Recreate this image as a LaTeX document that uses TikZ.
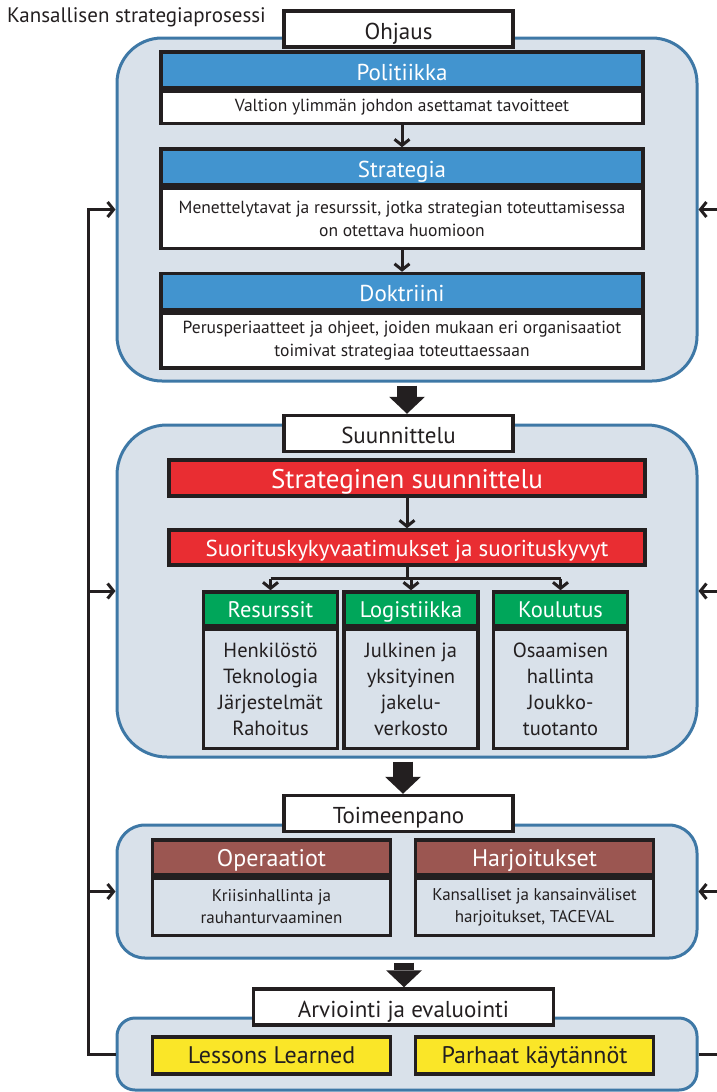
\documentclass[tikz,border=0pt]{standalone}
\usepackage{fontspec}
\setmainfont{PT Sans}
\usetikzlibrary{arrows.meta}

\definecolor{panelblue}{RGB}{62,120,166}
\definecolor{panelfill}{RGB}{217,225,234}
\definecolor{headblue}{RGB}{66,148,207}
\definecolor{headred}{RGB}{233,45,50}
\definecolor{headgreen}{RGB}{0,166,90}
\definecolor{headbrown}{RGB}{155,86,81}
\definecolor{boxyellow}{RGB}{250,230,40}
\definecolor{ink}{RGB}{35,31,32}

\begin{document}
\begin{tikzpicture}[x=1pt, y=-1pt, >={Straight Barb[length=6pt,width=15pt]},
  panel/.style={draw=panelblue, line width=3pt, fill=panelfill, rounded corners=#1, inner sep=0},
  stage/.style={draw=ink, line width=3.5pt, fill=white, text=ink, inner sep=0,
    minimum height=36pt, text height=20pt, text depth=0pt, font=\fontsize{23}{27}\selectfont},
  head/.style={draw=ink, line width=3.5pt, fill=#1, text=white, inner sep=0, text depth=0pt},
  body/.style={draw=ink, line width=3.5pt, fill=white, text=ink, align=center, inner sep=0},
  conn/.style={draw=ink, line width=3pt},
  bigarrow/.style={draw=ink, line width=20pt, -{Triangle[width=36pt,length=17pt,line width=0pt]}}]
  % --- page 717 x 1092, y runs downwards ---
  \useasboundingbox (0,0) rectangle (717,1092);

  % Title
  \node[anchor=west, inner sep=0, text=ink, font=\fontsize{21}{25}\selectfont] (title) at (7,17)
    {Kansallisen strategiaprosessi};

  % Panels
  \node[panel=45pt, minimum width=580pt, minimum height=343pt] (pan1) at (407,209.5) {};
  \node[panel=50pt, minimum width=580pt, minimum height=332pt] (pan2) at (407,591) {};
  \node[panel=28pt, minimum width=580pt, minimum height=133pt] (pan3) at (407,891.5) {};
  \node[panel=18pt, minimum width=580pt, minimum height=72pt] (pan4) at (407,1054) {};

  % Stage labels
  \node[stage, minimum width=229pt] (ohj) at (398.5,29) {Ohjaus};
  \node[stage, minimum width=229pt] (suun) at (398.5,433.5) {Suunnittelu};
  \node[stage, minimum width=229pt] (toim) at (398.5,813.5) {Toimeenpano};
  \node[stage, minimum width=300pt] (arv) at (403.5,1007) {Arviointi ja evaluointi};

  % Ohjaus: blue blocks
  \tikzset{bhead/.style={head=headblue, minimum width=482pt, minimum height=36pt,
      text height=20pt, font=\fontsize{23}{27}\selectfont},
    bbody/.style={body, minimum width=482pt, anchor=north, font=\fontsize{17.5}{23}\selectfont}}
  \node[bhead] (pol-h) at (402,70) {Politiikka};
  \node[bbody, minimum height=32pt] (pol-b) at (pol-h.south)
    {Valtion ylimmän johdon asettamat tavoitteet};
  \node[bhead] (str-h) at (402,167) {Strategia};
  \node[bbody, minimum height=60pt] (str-b) at (str-h.south)
    {Menettelytavat ja resurssit, jotka strategian toteuttamisessa\\on otettava huomioon};
  \node[bhead] (dok-h) at (402,291.5) {Doktriini};
  \node[bbody, minimum height=55pt] (dok-b) at (dok-h.south)
    {Perusperiaatteet ja ohjeet, joiden mukaan eri organisaatiot\\toimivat strategiaa toteuttaessaan};
  \draw[conn,->] (pol-b.south) -- (str-h.north);
  \draw[conn,->] (str-b.south) -- (dok-h.north);

  % Suunnittelu: red and green blocks
  \node[head=headred, minimum width=476pt, minimum height=36pt, text height=20pt,
    font=\fontsize{27}{31}\selectfont] (strs) at (407,478) {Strateginen suunnittelu};
  \node[head=headred, minimum width=476pt, minimum height=35pt, text height=17pt,
    font=\fontsize{23}{27}\selectfont] (suor) at (407,547.5) {Suorituskykyvaatimukset ja suorituskyvyt};
  \draw[conn,->] (strs.south) -- (suor.north);

  \tikzset{ghead/.style={head=headgreen, minimum width=134pt, minimum height=34pt,
      text height=16pt, font=\fontsize{22.5}{26}\selectfont},
    gbody/.style={body, fill=panelfill, minimum width=134pt, minimum height=119pt, anchor=north,
      font=\fontsize{20.5}{26}\selectfont}}
  \node[ghead] (res-h) at (270.5,609) {Resurssit};
  \node[gbody] (res-b) at (res-h.south) {Henkilöstö\\Teknologia\\Järjestelmät\\Rahoitus};
  \node[ghead] (log-h) at (411,609) {Logistiikka};
  \node[gbody] (log-b) at (log-h.south) {Julkinen ja\\yksityinen\\jakelu-\\verkosto};
  \node[ghead] (kou-h) at (560.5,609) {Koulutus};
  \node[gbody] (kou-b) at (kou-h.south) {Osaamisen\\hallinta\\Joukko-\\tuotanto};

  \draw[conn] (suor.south) -- ++(0,12) coordinate (br);
  \draw[conn] (br -| res-h.north) -- (br -| kou-h.north);
  \foreach \g in {res-h,log-h,kou-h}
    \draw[conn,->] (br -| \g.north) -- (\g.north);

  % Toimeenpano: brown blocks
  \tikzset{rhead/.style={head=headbrown, minimum width=238pt, minimum height=35pt,
      text height=17pt, font=\fontsize{24}{28}\selectfont},
    rbody/.style={body, fill=panelfill, minimum width=238pt, minimum height=57pt, anchor=north,
      font=\fontsize{17}{22}\selectfont}}
  \node[rhead] (ope-h) at (271.5,857.5) {Operaatiot};
  \node[rbody] (ope-b) at (ope-h.south) {Kriisinhallinta ja\\rauhanturvaaminen};
  \node[rhead] (har-h) at (534.5,857.5) {Harjoitukset};
  \node[rbody] (har-b) at (har-h.south) {Kansalliset ja kansainväliset\\harjoitukset, TACEVAL};

  % Arviointi: yellow blocks
  \tikzset{ybox/.style={head=boxyellow, text=ink, minimum width=238pt, minimum height=37pt,
      text height=15pt, font=\fontsize{24}{28}\selectfont}}
  \node[ybox] (les) at (271.5,1055.5) {Lessons Learned};
  \node[ybox] (par) at (534.5,1055.5) {Parhaat käytännöt};

  % Big arrows between the phases
  \draw[bigarrow] ([yshift=-3pt]pan1.south) -- (pan1.south |- suun.north);
  \draw[bigarrow] ([xshift=-4pt,yshift=-3pt]pan2.south) -- ([xshift=-4pt]pan2.south |- toim.north);
  \draw[bigarrow] ([xshift=-3pt,yshift=-3pt]pan3.south) -- ([xshift=-3pt]pan3.south |- arv.north);

  % Feedback, left
  \draw[conn,->] (pan4.west) -- ++(-27,0) coordinate (fb) |- (pan1.west);
  \draw[conn,->] (fb |- pan2.west) -- (pan2.west);
  \draw[conn,->] (fb |- pan3.west) -- (pan3.west);
  % Feedback, right
  \foreach \p in {pan1,pan2,pan3}
    \draw[conn,<-] (\p.east) -- ++(22,0);
  \draw[conn] (pan4.east) -- ++(22,0);
\end{tikzpicture}
\end{document}
